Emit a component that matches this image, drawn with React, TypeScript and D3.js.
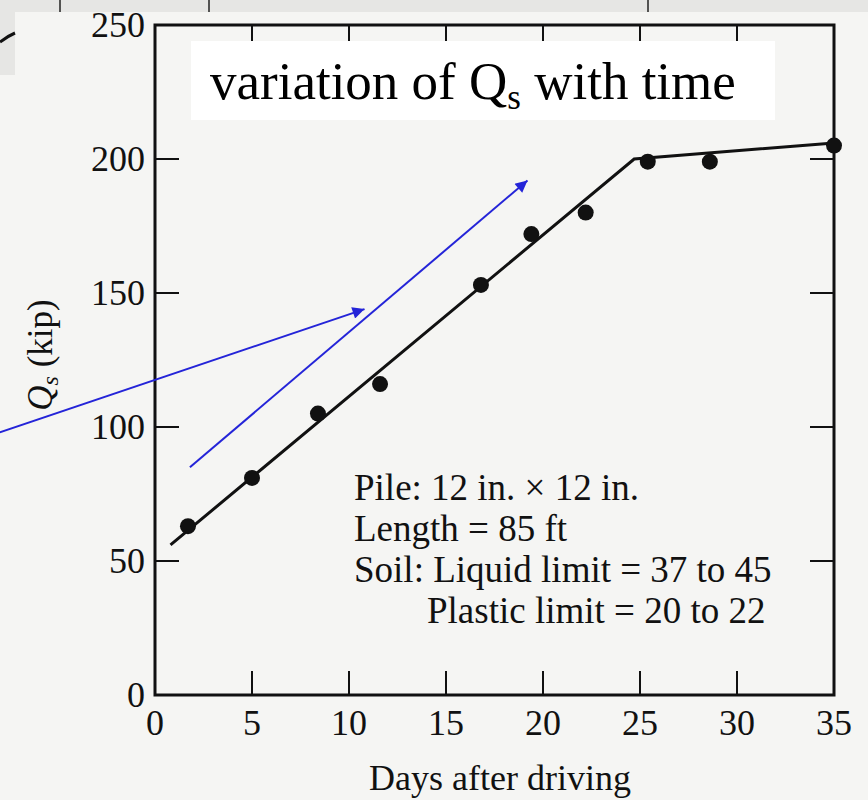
import React, { useEffect, useRef } from "react";
import * as d3 from "d3";

// measured points (days after driving, Qs in kip)
const days = [1.7, 5.0, 8.4, 11.6, 16.8, 19.4, 22.2, 25.4, 28.6, 35.0];
const qs = [63, 81, 105, 116, 153, 172, 180, 199, 199, 205];

// fitted bilinear line
const fitDays = [0.8, 24.7, 35];
const fitQs = [56, 200, 206];

const xTicks = [0, 5, 10, 15, 20, 25, 30, 35];
const yTicks = [0, 50, 100, 150, 200, 250];

// blue pointer arrows, in data units [day, kip]
const arrowFrom = [[-8.0, 98], [1.8, 85]];
const arrowTo = [[10.8, 144], [19.2, 192]];

const noteLines = [
  "Pile: 12 in. \u00d7 12 in.",
  "Length = 85 ft",
  "Soil: Liquid limit = 37 to 45",
  "Plastic limit = 20 to 22",
];

const W = 868, H = 800;
const serif = "'Liberation Serif', 'Times New Roman', serif";

export default function App() {
  const ref = useRef<SVGSVGElement>(null);

  useEffect(() => {
    const svg = d3.select(ref.current);
    svg.selectAll("*").remove();

    const x = d3.scaleLinear().domain([0, 35]).range([155, 834]);
    const y = d3.scaleLinear().domain([0, 250]).range([695, 25]);

    // paper + cut-off strip of the previous figure
    svg.append("rect").attr("width", W).attr("height", H).attr("fill", "#f5f5f3");
    svg.append("rect").attr("width", W).attr("height", 12).attr("fill", "#e6e6e4");
    svg.append("rect").attr("width", 15).attr("height", 75).attr("fill", "#e6e6e4");
    [60, 209, 648].forEach(px => {
      svg.append("line").attr("x1", px).attr("x2", px).attr("y1", 0).attr("y2", 12)
        .attr("stroke", "#222").attr("stroke-width", 1.5);
    });
    svg.append("path").attr("d", "M0,42 Q8,36 15,33").attr("fill", "none")
      .attr("stroke", "#111").attr("stroke-width", 3);

    // frame
    svg.append("rect")
      .attr("x", x(0)).attr("y", y(250))
      .attr("width", x(35) - x(0)).attr("height", y(0) - y(250))
      .attr("fill", "none").attr("stroke", "#111").attr("stroke-width", 3);

    const tl = 24;
    const g = svg.append("g").attr("stroke", "#111").attr("stroke-width", 2);
    xTicks.slice(1, -1).forEach(t => {
      g.append("line").attr("x1", x(t)).attr("x2", x(t)).attr("y1", y(0)).attr("y2", y(0) - tl);
      g.append("line").attr("x1", x(t)).attr("x2", x(t)).attr("y1", y(250)).attr("y2", y(250) + tl);
    });
    yTicks.slice(1, -1).forEach(t => {
      g.append("line").attr("x1", x(0)).attr("x2", x(0) + tl).attr("y1", y(t)).attr("y2", y(t));
      g.append("line").attr("x1", x(35)).attr("x2", x(35) - tl).attr("y1", y(t)).attr("y2", y(t));
    });

    // tick labels
    svg.append("g").selectAll("text").data(xTicks).enter().append("text")
      .attr("x", d => x(d)).attr("y", 735)
      .attr("text-anchor", "middle")
      .style("font-family", serif).style("font-size", "36px").attr("fill", "#111")
      .text(d => d);
    svg.append("g").selectAll("text").data(yTicks).enter().append("text")
      .attr("x", 145).attr("y", d => y(d) + 12)
      .attr("text-anchor", "end")
      .style("font-family", serif).style("font-size", "36px").attr("fill", "#111")
      .text(d => d);

    // axis titles
    svg.append("text")
      .attr("x", 500).attr("y", 790).attr("text-anchor", "middle")
      .style("font-family", serif).style("font-size", "36px").attr("fill", "#111")
      .text("Days after driving");

    const yl = svg.append("text")
      .attr("transform", "translate(52,355) rotate(-90)")
      .attr("text-anchor", "middle")
      .style("font-family", serif).style("font-size", "35px").attr("fill", "#111");
    yl.append("tspan").style("font-style", "italic").text("Q");
    yl.append("tspan").style("font-style", "italic").style("font-size", "24px").attr("dy", 6).text("s");
    yl.append("tspan").attr("dy", -6).text(" (kip)");

    // fitted line
    const line = d3.line<number>().x(d => x(d)).y((d, i) => y(fitQs[i]));
    svg.append("path").datum(fitDays).attr("d", line)
      .attr("fill", "none").attr("stroke", "#111").attr("stroke-width", 3);

    // points
    svg.append("g").selectAll("circle").data(days).enter().append("circle")
      .attr("cx", d => x(d)).attr("cy", (d, i) => y(qs[i])).attr("r", 8)
      .attr("fill", "#111");

    // note
    const note = svg.append("text")
      .style("font-family", serif).style("font-size", "37px").attr("fill", "#111");
    noteLines.forEach((s, i) => {
      note.append("tspan").attr("x", i === 3 ? 427 : 354).attr("y", 500 + i * 41).text(s);
    });

    // title box
    svg.append("rect").attr("x", 191).attr("y", 41).attr("width", 584).attr("height", 79).attr("fill", "#fff");
    const title = svg.append("text")
      .attr("x", 210).attr("y", 99)
      .style("font-family", serif).style("font-size", "53px").attr("fill", "#000");
    title.append("tspan").text("variation of Q");
    title.append("tspan").style("font-size", "35px").attr("dy", 10).text("s");
    title.append("tspan").attr("dy", -10).text(" with time");

    // blue arrows
    svg.append("defs").append("marker")
      .attr("id", "ah").attr("viewBox", "0 0 10 10").attr("refX", 10).attr("refY", 5)
      .attr("markerWidth", 8).attr("markerHeight", 6).attr("markerUnits", "strokeWidth")
      .attr("orient", "auto")
      .append("path").attr("d", "M0,0 L10,5 L0,10 Z").attr("fill", "#2424d8");
    arrowFrom.forEach((a, i) => {
      const b = arrowTo[i];
      svg.append("line")
        .attr("x1", x(a[0])).attr("y1", y(a[1]))
        .attr("x2", x(b[0])).attr("y2", y(b[1]))
        .attr("stroke", "#2424d8").attr("stroke-width", 2)
        .attr("marker-end", "url(#ah)");
    });
  }, []);

  return (
    <svg ref={ref} width={W} height={H}
      style={{ position: "absolute", left: 0, top: 0, display: "block" }} />
  );
}
